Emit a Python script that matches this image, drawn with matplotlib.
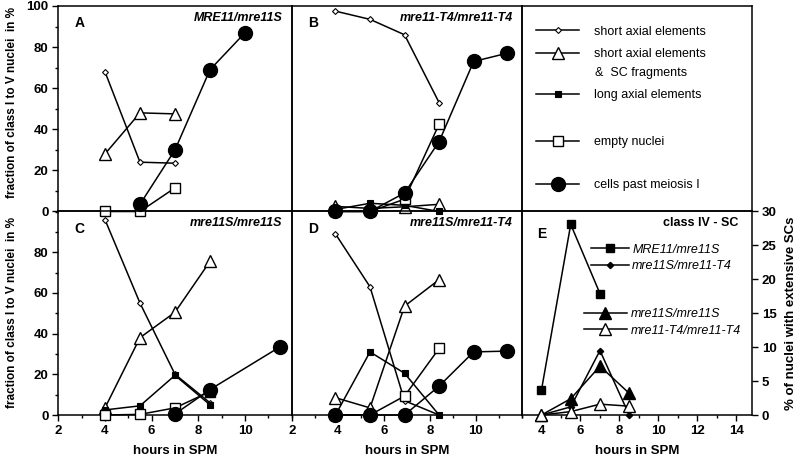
import matplotlib
matplotlib.use("Agg")
import matplotlib.pyplot as plt
from matplotlib.lines import Line2D
from matplotlib.legend import Legend
from matplotlib.ticker import MultipleLocator, FixedLocator

plt.rcParams['font.family'] = ['Liberation Sans', 'DejaVu Sans']

# ---------------- data ----------------
# Panel A  MRE11/mre11S
A_x = [4, 5.5, 7]
A_short = [68, 24, 23.5]
A_tri = [28, 48, 47.5]
A_empty = [0, 0, 11.5]
A_past_x = [5.5, 7, 8.5, 10]
A_past = [3.5, 30, 69, 87]

# Panel B  mre11-T4/mre11-T4
B_x = [3.9, 5.4, 6.9, 8.4]
B_short = [97.5, 93.5, 86, 53]
B_tri = [2.5, 1.5, 2.3, 3.5]
B_long = [1, 4, 3, 0]
B_empty = [0, 0, 6, 42.5]
B_past_x = [3.9, 5.4, 6.9, 8.4, 9.9, 11.35]
B_past = [0, 0, 9, 34, 73, 77]

# Panel C  mre11S/mre11S
C_x = [4, 5.5, 7, 8.5]
C_short = [96, 55, 20, 6]
C_tri = [3.5, 38, 50.5, 75.5]
C_long = [2.5, 4.5, 19.5, 5]
C_empty = [0, 0.3, 3.5, 11.5]
C_past_x = [7, 8.5, 11.5]
C_past = [0.5, 12.5, 33.5]

# Panel D  mre11S/mre11-T4
D_x = [3.9, 5.4, 6.9, 8.4]
D_short = [89, 63, 7, 0]
D_tri = [8.5, 3.5, 53.5, 66.5]
D_long = [0, 31, 20.5, 0]
D_empty = [0, 0, 9.3, 32.7]
D_past_x = [3.9, 5.4, 6.9, 8.4, 9.9, 11.35]
D_past = [0, 0, 0, 14.2, 31, 31.4]

# Panel E  class IV - SC
E_x = [4, 5.5, 7, 8.5]
E_MRE_x = [4, 5.5, 7]
E_MRE = [3.7, 28.1, 17.9]
E_S_T4 = [0, 1.2, 9.5, 0]
E_S_S = [0, 2.4, 7.2, 3.2]
E_T4_T4 = [0, 0.5, 1.6, 1.3]

legend_labels = ["short axial elements", "short axial elements", "long axial elements",
                 "empty nuclei", "cells past meiosis I"]
E_labels = ["MRE11/mre11S", "mre11S/mre11-T4", "mre11S/mre11S", "mre11-T4/mre11-T4"]

# ---------------- styles ----------------
LW = 1.1
sty = {
    'short': dict(marker='D', ms=3.0, mfc='white', mec='black', mew=0.8),
    'tri':   dict(marker='^', ms=9, mfc='white', mec='black', mew=1.0),
    'long':  dict(marker='s', ms=4, mfc='black', mec='black', mew=0.8),
    'empty': dict(marker='s', ms=7, mfc='white', mec='black', mew=1.0),
    'past':  dict(marker='o', ms=10, mfc='black', mec='black', mew=1.0),
}
Esty = [
    dict(marker='s', ms=6, mfc='black', mec='black'),
    dict(marker='D', ms=3.2, mfc='black', mec='black'),
    dict(marker='^', ms=8, mfc='black', mec='black'),
    dict(marker='^', ms=8, mfc='white', mec='black', mew=1.0),
]

W, H = 800, 459
fig = plt.figure(figsize=(8, 4.59), dpi=100)

def ax_px(x0, x1, y0, y1):
    return fig.add_axes([x0 / W, 1 - y1 / H, (x1 - x0) / W, (y1 - y0) / H])

TOP = (6, 211.5)
BOT = (211.5, 415)
axA = ax_px(58.3, 291.7, *TOP)
axB = ax_px(291.7, 522, *TOP)
axL = ax_px(522, 752, *TOP)
axC = ax_px(58.3, 291.7, *BOT)
axD = ax_px(291.7, 522, *BOT)
axE = ax_px(522, 752, *BOT)

def pl(ax, x, y, key, z=3):
    ax.plot(x, y, color='black', lw=LW, clip_on=False, zorder=z, **sty[key])

for ax in (axA, axB, axL, axC, axD, axE):
    for s in ax.spines.values():
        s.set_linewidth(1.1)
    ax.set_facecolor('none')

for ax in (axA, axB, axC, axD):
    ax.set_xlim(2, 12)
    ax.set_ylim(0, 100)

# Panel A
pl(axA, A_x, A_short, 'short')
pl(axA, A_x, A_tri, 'tri')
pl(axA, A_x, A_empty, 'empty')
pl(axA, A_past_x, A_past, 'past', 4)
# Panel B
pl(axB, B_x, B_short, 'short')
pl(axB, B_x, B_tri, 'tri')
pl(axB, B_x, B_long, 'long')
pl(axB, B_x, B_empty, 'empty')
pl(axB, B_past_x, B_past, 'past', 4)
# Panel C
pl(axC, C_x, C_short, 'short')
pl(axC, C_x, C_tri, 'tri')
pl(axC, C_x, C_long, 'long')
pl(axC, C_x, C_empty, 'empty')
pl(axC, C_past_x, C_past, 'past', 4)
# Panel D
pl(axD, D_x, D_short, 'short')
pl(axD, D_x, D_tri, 'tri')
pl(axD, D_x, D_long, 'long')
pl(axD, D_x, D_empty, 'empty')
pl(axD, D_past_x, D_past, 'past', 4)

# ticks for A-D
for ax in (axA, axB):
    ax.set_xticks([])
    ax.tick_params(axis='x', which='both', bottom=False, labelbottom=False)
for ax in (axB, axD):
    ax.set_yticks([])
axA.yaxis.set_major_locator(FixedLocator([0, 20, 40, 60, 80, 100]))
axC.yaxis.set_major_locator(FixedLocator([0, 20, 40, 60, 80]))
for ax in (axA, axC):
    ax.yaxis.set_minor_locator(MultipleLocator(10))
    ax.tick_params(axis='y', which='major', direction='out', length=4, width=1, pad=3, labelsize=9.5)
    ax.tick_params(axis='y', which='minor', direction='out', length=2.5, width=1)
for ax in (axC, axD):
    ax.xaxis.set_major_locator(FixedLocator([2, 4, 6, 8, 10]))
    ax.xaxis.set_minor_locator(MultipleLocator(1))
    ax.tick_params(axis='x', which='major', direction='out', length=4, width=1, pad=3, labelsize=9.5)
    ax.tick_params(axis='x', which='minor', direction='out', length=2.5, width=1)
    ax.set_xlabel("hours in SPM", fontsize=9.5, fontweight='bold', labelpad=6)

# panel letters and titles
for ax, letter, title in ((axA, 'A', 'MRE11/mre11S'), (axB, 'B', 'mre11-T4/mre11-T4'),
                          (axC, 'C', 'mre11S/mre11S'), (axD, 'D', 'mre11S/mre11-T4')):
    ax.text(0.07, 0.915, letter, transform=ax.transAxes, fontsize=10, fontweight='bold',
            ha='left', va='center')
    ax.text(0.96, 0.942, title, transform=ax.transAxes, fontsize=9, fontweight='bold',
            style='italic', ha='right', va='center')

# legend panel
axL.set_xticks([]); axL.set_yticks([])
keys = ['short', 'tri', 'long', 'empty', 'past']
ypos = [0.875, 0.766, 0.567, 0.338, 0.129]
for k, lab, yy in zip(keys, legend_labels, ypos):
    h = Line2D([], [], color='black', lw=LW, **sty[k])
    lg = Legend(axL, [h], [lab], loc='center left', bbox_to_anchor=(0.062, yy),
                frameon=False, fontsize=9, handlelength=3.4, handletextpad=1.2,
                borderaxespad=0, borderpad=0)
    axL.add_artist(lg)
axL.text(0.318, 0.674, "&  SC fragments", transform=axL.transAxes, fontsize=9,
         ha='left', va='center')

# Panel E
axE.set_xlim(3.0, 14.8)
axE.set_ylim(0, 30)
axE.plot(E_MRE_x, E_MRE, color='black', lw=LW, clip_on=False, zorder=3, **Esty[0])
axE.plot(E_x, E_S_T4, color='black', lw=LW, clip_on=False, zorder=3, **Esty[1])
axE.plot(E_x, E_S_S, color='black', lw=LW, clip_on=False, zorder=3, **Esty[2])
axE.plot(E_x, E_T4_T4, color='black', lw=LW, clip_on=False, zorder=4, **Esty[3])
axE.xaxis.set_major_locator(FixedLocator([4, 6, 8, 10, 12, 14]))
axE.xaxis.set_minor_locator(MultipleLocator(1))
axE.tick_params(axis='x', which='major', direction='out', length=4, width=1, pad=3, labelsize=9.5)
axE.tick_params(axis='x', which='minor', direction='out', length=2.5, width=1)
axE.yaxis.tick_right()
axE.yaxis.set_label_position('right')
axE.yaxis.set_major_locator(FixedLocator([0, 5, 10, 15, 20, 25, 30]))
axE.tick_params(axis='y', which='major', direction='out', length=4, width=1, pad=3, labelsize=9.5)
axE.set_xlabel("hours in SPM", fontsize=9.5, fontweight='bold', labelpad=6)
axE.set_ylabel("% of nuclei with extensive SCs", fontsize=9.5, fontweight='bold', labelpad=6)
axE.text(0.065, 0.89, 'E', transform=axE.transAxes, fontsize=10, fontweight='bold',
         ha='left', va='center')
axE.text(0.94, 0.945, 'class IV - SC', transform=axE.transAxes, fontsize=9,
         fontweight='bold', ha='right', va='center')
hE = [Line2D([], [], color='black', lw=LW, **s) for s in Esty]
lg1 = Legend(axE, hE[:2], E_labels[:2], loc='center left', bbox_to_anchor=(0.30, 0.772),
             frameon=False, prop={'style': 'italic', 'size': 9},
             handlelength=3.0, handletextpad=0.3, labelspacing=0.35,
             borderaxespad=0, borderpad=0)
axE.add_artist(lg1)
lg2 = Legend(axE, hE[2:], E_labels[2:], loc='center left', bbox_to_anchor=(0.27, 0.454),
             frameon=False, prop={'style': 'italic', 'size': 9},
             handlelength=3.4, handletextpad=0.3, labelspacing=0.35,
             borderaxespad=0, borderpad=0)
axE.add_artist(lg2)

for ax in (axA, axC, axD, axE):
    for lab in ax.get_xticklabels() + ax.get_yticklabels():
        lab.set_fontweight('bold')

# left y labels
ylab = "fraction of class I to V nuclei  in %"
fig.text(12 / W, 1 - 103 / H, ylab, rotation=90, fontsize=8.5, fontweight='bold',
         ha='center', va='center')
fig.text(12 / W, 1 - 313 / H, ylab, rotation=90, fontsize=8.5, fontweight='bold',
         ha='center', va='center')

fig.savefig("out.png", dpi=100)
